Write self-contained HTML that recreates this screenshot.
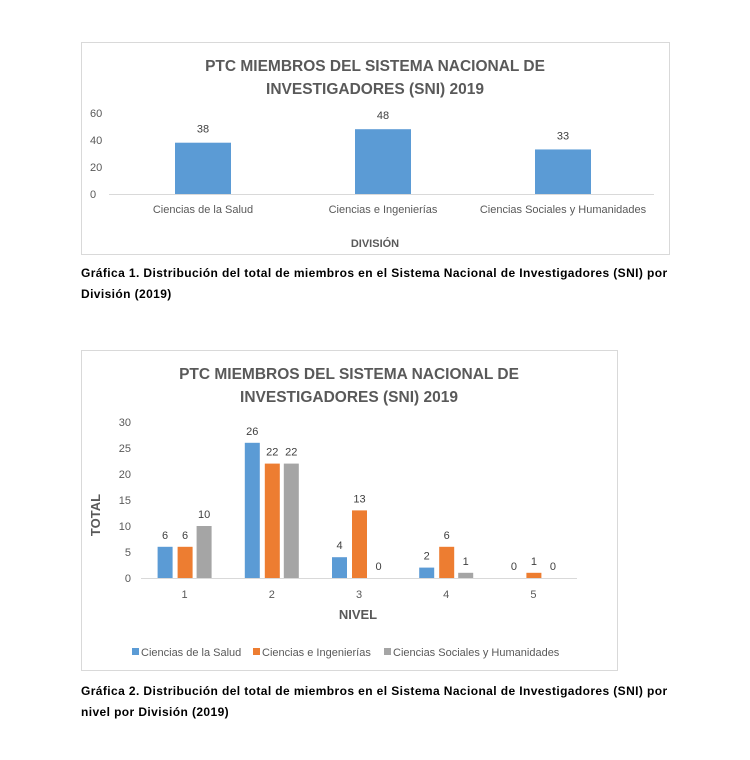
<!DOCTYPE html>
<html><head><meta charset="utf-8"><style>
body{margin:0;background:#fff;width:750px;height:760px;overflow:hidden;font-family:"Liberation Sans",sans-serif}
.cap{position:absolute;left:81px;font-weight:bold;font-size:12px;line-height:21px;color:#000;width:592px;letter-spacing:0.4px}
</style></head><body>
<svg width="750" height="760" style="position:absolute;left:0;top:0" font-family="Liberation Sans, sans-serif">
<rect x="81.5" y="42.5" width="588" height="212" fill="#fff" stroke="#d9d9d9"/>
<g id="c1"></g>
<rect x="81.5" y="350.5" width="536" height="320" fill="#fff" stroke="#d9d9d9"/>
<g id="c2"></g>
</svg>
<div class="cap" style="top:263px">Gráfica 1. Distribución del total de miembros en el Sistema Nacional de Investigadores (SNI) por División (2019)</div>
<div class="cap" style="top:681px">Gráfica 2. Distribución del total de miembros en el Sistema Nacional de Investigadores (SNI) por nivel por División (2019)</div>
<script>
const c1Categories=["Ciencias de la Salud","Ciencias e Ingenierías","Ciencias Sociales y Humanidades"];
const c1Values=[38,48,33];
const c1Ticks=[0,20,40,60];
const c2Categories=["1","2","3","4","5"];
const c2Series=["Ciencias de la Salud","Ciencias e Ingenierías","Ciencias Sociales y Humanidades"];
const c2Salud=[6,26,4,2,0];
const c2Ing=[6,22,13,6,1];
const c2Soc=[10,22,0,1,0];
const c2Ticks=[0,5,10,15,20,25,30];
const NS="http://www.w3.org/2000/svg";
function mk(p,t,a,txt){const e=document.createElementNS(NS,t);for(const k in a)e.setAttribute(k,a[k]);if(txt!==undefined)e.textContent=txt;p.appendChild(e);return e;}
(function(){
const g=document.getElementById('c1');
const y=v=>194-v*(81/60);const x0=113,bw=180;
let t=mk(g,'text',{x:375,y:71,'text-anchor':'middle','font-size':15.5,'font-weight':'bold',fill:'#595959'},'PTC MIEMBROS DEL SISTEMA NACIONAL DE');


t=mk(g,'text',{x:375,y:94,'text-anchor':'middle','font-size':15.5,'font-weight':'bold',fill:'#595959'},'INVESTIGADORES (SNI) 2019');


c1Ticks.forEach(v=>{const e=mk(g,'text',{x:90,y:y(v)+4,'font-size':11,fill:'#595959'},String(v));

});
const ax=mk(g,'line',{x1:109,x2:654,y1:194.5,y2:194.5,stroke:'#d9d9d9'});


c1Values.forEach((v,i)=>{const cx=x0+bw*(i+.5);
const r=mk(g,'rect',{x:cx-28,y:y(v),width:56,height:194-y(v),fill:'#5b9bd5'});


const l=mk(g,'text',{x:cx,y:y(v)-10,'text-anchor':'middle','font-size':11,fill:'#404040'},String(v));


const c=mk(g,'text',{x:cx,y:213,'text-anchor':'middle','font-size':11,fill:'#595959'},c1Categories[i]);

});
t=mk(g,'text',{x:375,y:247,'text-anchor':'middle','font-size':11,'font-weight':'bold',fill:'#595959'},'DIVISIÓN');


})();
(function(){
const g=document.getElementById('c2');
const y=v=>578-v*5.2;const x0=141,bw=87.2;
let t=mk(g,'text',{x:349,y:379,'text-anchor':'middle','font-size':15.5,'font-weight':'bold',fill:'#595959'},'PTC MIEMBROS DEL SISTEMA NACIONAL DE');


t=mk(g,'text',{x:349,y:402,'text-anchor':'middle','font-size':15.5,'font-weight':'bold',fill:'#595959'},'INVESTIGADORES (SNI) 2019');


c2Ticks.forEach(v=>{const e=mk(g,'text',{x:131,y:y(v)+4,'text-anchor':'end','font-size':11,fill:'#595959'},String(v));

});
const ax=mk(g,'line',{x1:141,x2:577,y1:578.5,y2:578.5,stroke:'#d9d9d9'});


const series=[c2Salud,c2Ing,c2Soc],cols=['#5b9bd5','#ed7d31','#a5a5a5'],off=[-27,-7,12];
c2Categories.forEach((c,i)=>{const cx=x0+bw*(i+.5);
series.forEach((s,j)=>{const v=s[i];
const r=mk(g,'rect',{x:cx+off[j],y:y(v),width:15,height:578-y(v),fill:cols[j]});


const l=mk(g,'text',{x:cx+off[j]+7.5,y:y(v)-8,'text-anchor':'middle','font-size':11,fill:'#404040'},String(v));

});
const cl=mk(g,'text',{x:cx,y:598,'text-anchor':'middle','font-size':11,fill:'#595959'},c);

});
t=mk(g,'text',{x:358,y:619,'text-anchor':'middle','font-size':13,'font-weight':'bold',fill:'#595959'},'NIVEL');


t=mk(g,'text',{x:100,y:515,'text-anchor':'middle','font-size':13,'font-weight':'bold',fill:'#595959',transform:'rotate(-90 100 515)'},'TOTAL');


const lx=[132,253,384];
c2Series.forEach((s,j)=>{
const r=mk(g,'rect',{x:lx[j],y:648,width:7,height:7,fill:cols[j]});


const e=mk(g,'text',{x:lx[j]+9,y:656,'font-size':11,fill:'#595959'},s);

});
})();
</script>
</body></html>
